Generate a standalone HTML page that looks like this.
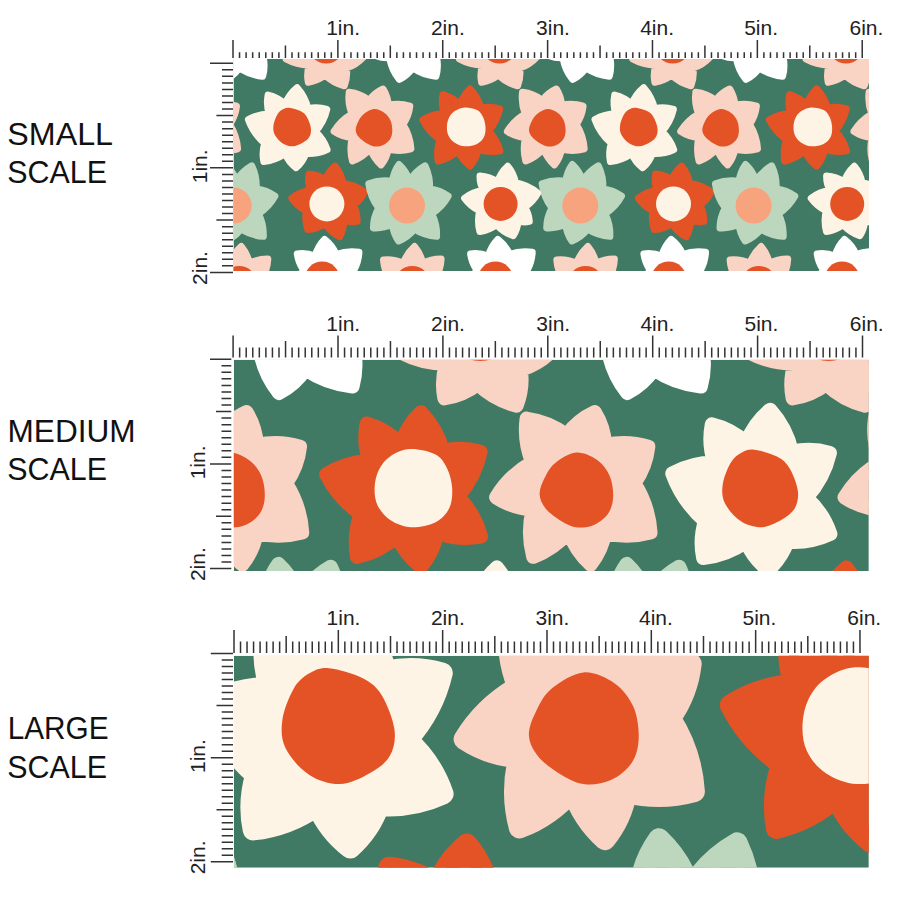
<!DOCTYPE html>
<html><head><meta charset="utf-8"><style>
html,body{margin:0;padding:0;background:#fff;width:900px;height:900px;overflow:hidden}
svg{display:block}
.rl{font-family:"Liberation Sans",sans-serif;font-size:21px;fill:#222}
.big{font-family:"Liberation Sans",sans-serif;font-size:31px;fill:#111}
</style></head><body>
<svg width="900" height="900" viewBox="0 0 900 900">
<rect width="900" height="900" fill="#fff"/>
<defs>
<clipPath id="c0"><rect x="233.5" y="59.0" width="635.5" height="212.0"/></clipPath>
<clipPath id="c1"><rect x="233.8" y="359.7" width="635.0" height="211.4"/></clipPath>
<clipPath id="c2"><rect x="233.9" y="655.8" width="634.9" height="211.9"/></clipPath>
</defs>
<g clip-path="url(#c0)">
<rect x="233.5" y="59.0" width="635.5" height="212.0" fill="#407a64"/>
<path fill="#fdf4e5" stroke="#fdf4e5" stroke-width="7.00" stroke-linejoin="round" d="M285.2 104.3Q289.0 94.5 297.1 87.8Q305.2 96.9 307.9 108.7Q317.5 106.6 326.8 109.3Q323.9 122.0 315.2 131.6Q323.5 139.0 327.1 149.6Q316.9 154.3 305.7 153.5Q302.8 161.8 296.1 167.6Q288.8 162.0 285.1 153.5Q275.5 160.3 263.8 161.6Q261.9 152.3 264.7 143.2Q253.5 133.5 248.4 119.5Q258.1 114.1 269.3 114.1Q266.2 104.7 268.1 95.1Q277.8 97.5 285.2 104.3Z"/>
<path fill="#e45326" d="M289.1 107.7C292.1 108.0 297.6 109.6 300.5 111.1C303.4 112.6 305.0 114.0 306.7 116.8C308.4 119.6 310.5 124.8 310.9 128.2C311.3 131.6 310.7 134.6 309.3 137.0C307.9 139.4 305.4 141.1 302.6 142.7C299.8 144.2 296.1 146.2 292.7 146.3C289.3 146.4 285.4 145.2 282.4 143.2C279.4 141.2 276.1 137.4 274.6 134.4C273.1 131.4 273.1 128.4 273.5 125.1C273.9 121.8 275.7 117.3 277.2 114.7C278.7 112.1 280.4 110.7 282.4 109.5C284.4 108.3 286.1 107.4 289.1 107.7Z"/>
<path fill="#fdf4e5" stroke="#fdf4e5" stroke-width="7.00" stroke-linejoin="round" d="M631.8 104.3Q635.6 94.5 643.7 87.8Q651.8 96.9 654.5 108.7Q664.1 106.6 673.4 109.3Q670.5 122.0 661.8 131.6Q670.1 139.0 673.7 149.6Q663.5 154.3 652.3 153.5Q649.4 161.8 642.7 167.6Q635.4 162.0 631.7 153.5Q622.1 160.3 610.4 161.6Q608.5 152.3 611.3 143.2Q600.1 133.5 595.0 119.5Q604.7 114.1 615.9 114.1Q612.8 104.7 614.7 95.1Q624.4 97.5 631.8 104.3Z"/>
<path fill="#e45326" d="M635.7 107.7C638.7 108.0 644.2 109.6 647.1 111.1C650.0 112.6 651.6 114.0 653.3 116.8C655.0 119.6 657.1 124.8 657.5 128.2C657.9 131.6 657.3 134.6 655.9 137.0C654.5 139.4 652.0 141.1 649.2 142.7C646.4 144.2 642.7 146.2 639.3 146.3C635.9 146.4 632.0 145.2 629.0 143.2C626.0 141.2 622.7 137.4 621.2 134.4C619.7 131.4 619.7 128.4 620.1 125.1C620.5 121.8 622.3 117.3 623.8 114.7C625.3 112.1 627.0 110.7 629.0 109.5C631.0 108.3 632.7 107.4 635.7 107.7Z"/>
<path fill="#f9d3c3" stroke="#f9d3c3" stroke-width="7.00" stroke-linejoin="round" d="M195.8 100.4Q201.3 92.9 209.8 89.0Q214.5 96.5 215.0 105.4Q225.9 103.0 236.5 106.2Q235.4 116.2 229.6 124.4Q236.7 135.6 237.6 148.8Q226.3 151.9 214.9 149.1Q213.4 157.9 207.8 164.9Q200.2 158.1 197.0 148.5Q189.7 157.0 179.2 161.0Q176.1 149.3 179.0 137.6Q169.1 136.9 160.8 131.4Q167.5 120.4 178.7 114.0Q174.5 103.5 175.9 92.3Q186.9 93.7 195.8 100.4Z"/>
<path fill="#e45326" d="M200.6 109.1C204.0 108.8 208.1 110.8 210.9 112.7C213.7 114.6 215.8 117.5 217.2 120.5C218.5 123.5 219.1 127.8 219.0 130.9C218.9 134.0 218.2 136.9 216.7 139.2C215.2 141.5 212.5 143.7 209.9 144.9C207.3 146.1 203.9 146.7 201.1 146.4C198.3 146.1 195.9 144.9 193.3 143.3C190.7 141.8 187.3 139.3 185.5 137.1C183.7 134.9 182.5 132.5 182.4 129.9C182.3 127.3 183.7 124.2 185.0 121.6C186.3 119.0 187.6 116.4 190.2 114.3C192.8 112.2 197.1 109.4 200.6 109.1Z"/>
<path fill="#f9d3c3" stroke="#f9d3c3" stroke-width="7.00" stroke-linejoin="round" d="M369.1 100.4Q374.6 92.9 383.1 89.0Q387.8 96.5 388.3 105.4Q399.2 103.0 409.8 106.2Q408.7 116.2 402.9 124.4Q410.0 135.6 410.9 148.8Q399.6 151.9 388.2 149.1Q386.7 157.9 381.1 164.9Q373.5 158.1 370.3 148.5Q363.0 157.0 352.5 161.0Q349.4 149.3 352.3 137.6Q342.4 136.9 334.1 131.4Q340.8 120.4 352.0 114.0Q347.8 103.5 349.2 92.3Q360.2 93.7 369.1 100.4Z"/>
<path fill="#e45326" d="M373.9 109.1C377.3 108.8 381.4 110.8 384.2 112.7C387.0 114.6 389.1 117.5 390.5 120.5C391.9 123.5 392.4 127.8 392.3 130.9C392.2 134.0 391.5 136.9 390.0 139.2C388.5 141.5 385.8 143.7 383.2 144.9C380.6 146.1 377.2 146.7 374.4 146.4C371.6 146.1 369.2 144.9 366.6 143.3C364.0 141.8 360.6 139.3 358.8 137.1C357.0 134.9 355.8 132.5 355.7 129.9C355.6 127.3 357.0 124.2 358.3 121.6C359.6 119.0 360.9 116.4 363.5 114.3C366.1 112.2 370.4 109.4 373.9 109.1Z"/>
<path fill="#f9d3c3" stroke="#f9d3c3" stroke-width="7.00" stroke-linejoin="round" d="M542.4 100.4Q547.9 92.9 556.4 89.0Q561.1 96.5 561.6 105.4Q572.5 103.0 583.1 106.2Q582.0 116.2 576.2 124.4Q583.3 135.6 584.2 148.8Q572.9 151.9 561.5 149.1Q560.0 157.9 554.4 164.9Q546.8 158.1 543.6 148.5Q536.3 157.0 525.8 161.0Q522.7 149.3 525.6 137.6Q515.7 136.9 507.4 131.4Q514.1 120.4 525.3 114.0Q521.1 103.5 522.5 92.3Q533.5 93.7 542.4 100.4Z"/>
<path fill="#e45326" d="M547.2 109.1C550.7 108.8 554.7 110.8 557.5 112.7C560.3 114.6 562.4 117.5 563.8 120.5C565.1 123.5 565.7 127.8 565.6 130.9C565.5 134.0 564.8 136.9 563.3 139.2C561.8 141.5 559.1 143.7 556.5 144.9C553.9 146.1 550.5 146.7 547.7 146.4C544.9 146.1 542.5 144.9 539.9 143.3C537.3 141.8 533.9 139.3 532.1 137.1C530.3 134.9 529.1 132.5 529.0 129.9C528.9 127.3 530.3 124.2 531.6 121.6C532.9 119.0 534.2 116.4 536.8 114.3C539.4 112.2 543.8 109.4 547.2 109.1Z"/>
<path fill="#f9d3c3" stroke="#f9d3c3" stroke-width="7.00" stroke-linejoin="round" d="M715.7 100.4Q721.2 92.9 729.7 89.0Q734.4 96.5 734.9 105.4Q745.8 103.0 756.4 106.2Q755.3 116.2 749.5 124.4Q756.6 135.6 757.5 148.8Q746.2 151.9 734.8 149.1Q733.3 157.9 727.7 164.9Q720.1 158.1 716.9 148.5Q709.6 157.0 699.1 161.0Q696.0 149.3 698.9 137.6Q689.0 136.9 680.7 131.4Q687.4 120.4 698.6 114.0Q694.4 103.5 695.8 92.3Q706.8 93.7 715.7 100.4Z"/>
<path fill="#e45326" d="M720.5 109.1C724.0 108.8 728.0 110.8 730.8 112.7C733.6 114.6 735.8 117.5 737.1 120.5C738.5 123.5 739.0 127.8 738.9 130.9C738.8 134.0 738.1 136.9 736.6 139.2C735.1 141.5 732.4 143.7 729.8 144.9C727.2 146.1 723.8 146.7 721.0 146.4C718.2 146.1 715.8 144.9 713.2 143.3C710.6 141.8 707.2 139.3 705.4 137.1C703.6 134.9 702.4 132.5 702.3 129.9C702.2 127.3 703.6 124.2 704.9 121.6C706.2 119.0 707.5 116.4 710.1 114.3C712.7 112.2 717.0 109.4 720.5 109.1Z"/>
<path fill="#f9d3c3" stroke="#f9d3c3" stroke-width="7.00" stroke-linejoin="round" d="M889.0 100.4Q894.5 92.9 903.0 89.0Q907.7 96.5 908.2 105.4Q919.1 103.0 929.7 106.2Q928.6 116.2 922.8 124.4Q929.9 135.6 930.8 148.8Q919.5 151.9 908.1 149.1Q906.6 157.9 901.0 164.9Q893.4 158.1 890.2 148.5Q882.9 157.0 872.4 161.0Q869.3 149.3 872.2 137.6Q862.3 136.9 854.0 131.4Q860.7 120.4 871.9 114.0Q867.7 103.5 869.1 92.3Q880.1 93.7 889.0 100.4Z"/>
<path fill="#e45326" d="M893.8 109.1C897.3 108.8 901.3 110.8 904.1 112.7C906.9 114.6 909.1 117.5 910.4 120.5C911.8 123.5 912.3 127.8 912.2 130.9C912.1 134.0 911.4 136.9 909.9 139.2C908.4 141.5 905.7 143.7 903.1 144.9C900.5 146.1 897.1 146.7 894.3 146.4C891.5 146.1 889.1 144.9 886.5 143.3C883.9 141.8 880.5 139.3 878.7 137.1C876.9 134.9 875.7 132.5 875.6 129.9C875.5 127.3 876.9 124.2 878.2 121.6C879.5 119.0 880.8 116.4 883.4 114.3C886.0 112.2 890.4 109.4 893.8 109.1Z"/>
<path fill="#e45326" stroke="#e45326" stroke-width="7.00" stroke-linejoin="round" d="M460.0 104.9Q463.0 95.7 470.0 89.0Q478.0 97.2 480.9 108.2Q490.4 106.1 499.7 108.8Q497.0 121.4 488.5 131.0Q496.8 139.5 499.9 150.9Q488.8 152.9 478.2 149.2Q476.3 158.6 470.0 166.0Q462.1 159.9 458.1 150.7Q449.5 158.5 438.2 161.1Q436.3 150.1 440.0 139.6Q428.9 132.0 422.8 120.0Q432.6 113.8 444.1 113.2Q441.1 104.1 443.0 94.7Q452.8 97.6 460.0 104.9Z"/>
<path fill="#fdf4e5" d="M464.5 107.4C468.2 107.2 473.9 108.4 477.0 110.0C480.1 111.6 481.6 114.2 483.0 117.0C484.4 119.8 485.3 123.7 485.5 127.0C485.7 130.3 485.4 134.2 484.0 137.0C482.6 139.8 480.2 142.4 477.0 144.0C473.8 145.6 468.7 146.5 465.0 146.3C461.3 146.1 457.5 144.5 454.7 142.7C451.9 140.9 449.7 138.1 448.4 135.4C447.1 132.7 446.8 129.5 446.9 126.6C447.0 123.7 447.7 120.4 449.0 117.8C450.3 115.2 452.1 112.8 454.7 111.1C457.3 109.4 460.8 107.6 464.5 107.4Z"/>
<path fill="#e45326" stroke="#e45326" stroke-width="7.00" stroke-linejoin="round" d="M806.6 104.9Q809.6 95.7 816.6 89.0Q824.6 97.2 827.5 108.2Q837.0 106.1 846.3 108.8Q843.6 121.4 835.1 131.0Q843.4 139.5 846.5 150.9Q835.4 152.9 824.8 149.2Q822.9 158.6 816.6 166.0Q808.7 159.9 804.7 150.7Q796.1 158.5 784.8 161.1Q782.9 150.1 786.6 139.6Q775.5 132.0 769.4 120.0Q779.2 113.8 790.7 113.2Q787.7 104.1 789.6 94.7Q799.4 97.6 806.6 104.9Z"/>
<path fill="#fdf4e5" d="M811.1 107.4C814.8 107.2 820.5 108.4 823.6 110.0C826.7 111.6 828.2 114.2 829.6 117.0C831.0 119.8 831.9 123.7 832.1 127.0C832.3 130.3 832.0 134.2 830.6 137.0C829.2 139.8 826.8 142.4 823.6 144.0C820.4 145.6 815.3 146.5 811.6 146.3C807.9 146.1 804.1 144.5 801.3 142.7C798.5 140.9 796.3 138.1 795.0 135.4C793.7 132.7 793.4 129.5 793.5 126.6C793.6 123.7 794.3 120.4 795.6 117.8C796.9 115.2 798.7 112.8 801.3 111.1C803.9 109.4 807.4 107.6 811.1 107.4Z"/>
<path fill="#e45326" stroke="#e45326" stroke-width="7.00" stroke-linejoin="round" d="M325.2 179.9Q328.3 171.8 335.1 166.3Q341.3 173.9 343.0 183.5Q354.9 185.0 364.4 192.1Q360.6 200.1 353.4 205.1Q357.4 212.8 357.1 221.3Q350.3 222.4 343.9 220.0Q343.9 228.9 339.6 236.7Q330.7 231.9 325.2 223.5Q317.3 228.8 307.8 229.5Q304.6 220.3 306.3 210.7Q297.4 206.4 291.8 198.2Q300.0 191.8 310.4 190.2Q307.6 182.3 309.0 174.1Q317.9 174.9 325.2 179.9Z"/>
<circle fill="#fdf4e5" cx="326.9" cy="203.9" r="17.5"/>
<path fill="#e45326" stroke="#e45326" stroke-width="7.00" stroke-linejoin="round" d="M671.8 179.9Q674.9 171.8 681.7 166.3Q687.9 173.9 689.6 183.5Q701.5 185.0 711.0 192.1Q707.2 200.1 700.0 205.1Q704.0 212.8 703.7 221.3Q696.9 222.4 690.5 220.0Q690.5 228.9 686.2 236.7Q677.3 231.9 671.8 223.5Q663.9 228.8 654.4 229.5Q651.2 220.3 652.9 210.7Q644.0 206.4 638.4 198.2Q646.6 191.8 657.0 190.2Q654.2 182.3 655.6 174.1Q664.5 174.9 671.8 179.9Z"/>
<circle fill="#fdf4e5" cx="673.5" cy="203.9" r="17.5"/>
<path fill="#bdd7bf" stroke="#bdd7bf" stroke-width="7.00" stroke-linejoin="round" d="M219.2 181.4Q220.3 172.1 225.7 164.5Q233.1 171.4 236.2 181.0Q242.1 171.5 251.8 165.9Q257.0 176.9 256.2 188.9Q266.5 190.1 274.9 196.1Q268.9 207.1 258.3 213.7Q263.8 224.3 263.3 236.3Q251.3 235.5 241.1 229.1Q234.7 237.1 225.3 241.0Q220.0 233.4 219.1 224.2Q210.1 228.5 200.1 227.9Q200.2 217.3 205.4 208.0Q197.3 197.2 195.5 183.7Q207.0 179.5 219.2 181.4Z"/>
<circle fill="#f6a37e" cx="233.7" cy="205.6" r="18.0"/>
<path fill="#bdd7bf" stroke="#bdd7bf" stroke-width="7.00" stroke-linejoin="round" d="M392.5 181.4Q393.6 172.1 399.0 164.5Q406.4 171.4 409.5 181.0Q415.4 171.5 425.1 165.9Q430.3 176.9 429.5 188.9Q439.8 190.1 448.2 196.1Q442.2 207.1 431.6 213.7Q437.1 224.3 436.6 236.3Q424.6 235.5 414.4 229.1Q408.0 237.1 398.6 241.0Q393.3 233.4 392.4 224.2Q383.4 228.5 373.4 227.9Q373.5 217.3 378.7 208.0Q370.6 197.2 368.8 183.7Q380.3 179.5 392.5 181.4Z"/>
<circle fill="#f6a37e" cx="407.0" cy="205.6" r="18.0"/>
<path fill="#bdd7bf" stroke="#bdd7bf" stroke-width="7.00" stroke-linejoin="round" d="M565.8 181.4Q566.9 172.1 572.3 164.5Q579.7 171.4 582.8 181.0Q588.7 171.5 598.4 165.9Q603.6 176.9 602.8 188.9Q613.1 190.1 621.5 196.1Q615.5 207.1 604.9 213.7Q610.4 224.3 609.9 236.3Q597.9 235.5 587.7 229.1Q581.3 237.1 571.9 241.0Q566.6 233.4 565.7 224.2Q556.7 228.5 546.7 227.9Q546.8 217.3 552.0 208.0Q543.9 197.2 542.1 183.7Q553.6 179.5 565.8 181.4Z"/>
<circle fill="#f6a37e" cx="580.3" cy="205.6" r="18.0"/>
<path fill="#bdd7bf" stroke="#bdd7bf" stroke-width="7.00" stroke-linejoin="round" d="M739.1 181.4Q740.2 172.1 745.6 164.5Q753.0 171.4 756.1 181.0Q762.0 171.5 771.7 165.9Q776.9 176.9 776.1 188.9Q786.4 190.1 794.8 196.1Q788.8 207.1 778.2 213.7Q783.7 224.3 783.2 236.3Q771.2 235.5 761.0 229.1Q754.6 237.1 745.2 241.0Q739.9 233.4 739.0 224.2Q730.0 228.5 720.0 227.9Q720.1 217.3 725.3 208.0Q717.2 197.2 715.4 183.7Q726.9 179.5 739.1 181.4Z"/>
<circle fill="#f6a37e" cx="753.6" cy="205.6" r="18.0"/>
<path fill="#fdf4e5" stroke="#fdf4e5" stroke-width="7.00" stroke-linejoin="round" d="M497.6 182.1Q500.6 172.8 507.7 166.3Q513.7 173.4 515.4 182.6Q527.9 184.9 537.7 193.1Q533.0 201.8 524.6 207.1Q528.8 213.6 529.3 221.4Q523.5 222.6 517.9 221.0Q517.5 228.9 513.2 235.6Q503.5 232.3 496.6 224.6Q489.2 230.3 479.9 231.6Q477.1 221.2 479.7 210.8Q470.5 206.5 464.6 198.3Q473.0 191.8 483.6 190.3Q479.9 183.6 480.0 176.0Q489.6 176.8 497.6 182.1Z"/>
<circle fill="#e45326" cx="500.6" cy="203.9" r="17.0"/>
<path fill="#fdf4e5" stroke="#fdf4e5" stroke-width="7.00" stroke-linejoin="round" d="M844.2 182.1Q847.2 172.8 854.3 166.3Q860.3 173.4 862.0 182.6Q874.5 184.9 884.3 193.1Q879.6 201.8 871.2 207.1Q875.4 213.6 875.9 221.4Q870.1 222.6 864.5 221.0Q864.1 228.9 859.8 235.6Q850.1 232.3 843.2 224.6Q835.8 230.3 826.5 231.6Q823.7 221.2 826.3 210.8Q817.1 206.5 811.2 198.3Q819.6 191.8 830.2 190.3Q826.5 183.6 826.6 176.0Q836.2 176.8 844.2 182.1Z"/>
<circle fill="#e45326" cx="847.2" cy="203.9" r="17.0"/>
<path fill="#ffffff" stroke="#ffffff" stroke-width="7.00" stroke-linejoin="round" d="M315.1 256.2Q317.7 246.6 324.6 239.5Q332.4 245.5 336.3 254.6Q347.3 250.5 358.9 252.3Q358.4 262.9 352.8 271.8Q361.6 277.7 366.4 287.1Q357.6 292.7 347.1 293.3Q347.8 303.7 343.3 313.2Q333.6 309.5 327.0 301.6Q319.3 308.5 309.2 310.8Q306.3 301.0 308.5 291.1Q298.5 289.8 290.3 283.8Q295.9 275.7 304.7 271.4Q298.7 263.6 297.3 253.9Q306.5 252.7 315.1 256.2Z"/>
<circle fill="#e45326" cx="322.2" cy="279.0" r="17.5"/>
<path fill="#ffffff" stroke="#ffffff" stroke-width="7.00" stroke-linejoin="round" d="M488.4 256.2Q491.0 246.6 497.9 239.5Q505.7 245.5 509.6 254.6Q520.6 250.5 532.2 252.3Q531.7 262.9 526.1 271.8Q534.9 277.7 539.7 287.1Q530.9 292.7 520.4 293.3Q521.1 303.7 516.6 313.2Q506.9 309.5 500.3 301.6Q492.6 308.5 482.5 310.8Q479.6 301.0 481.8 291.1Q471.8 289.8 463.6 283.8Q469.2 275.7 478.0 271.4Q472.0 263.6 470.6 253.9Q479.8 252.7 488.4 256.2Z"/>
<circle fill="#e45326" cx="495.5" cy="279.0" r="17.5"/>
<path fill="#ffffff" stroke="#ffffff" stroke-width="7.00" stroke-linejoin="round" d="M661.7 256.2Q664.3 246.6 671.2 239.5Q679.0 245.5 682.9 254.6Q693.9 250.5 705.5 252.3Q705.0 262.9 699.4 271.8Q708.2 277.7 713.0 287.1Q704.2 292.7 693.7 293.3Q694.4 303.7 689.9 313.2Q680.2 309.5 673.6 301.6Q665.9 308.5 655.8 310.8Q652.9 301.0 655.1 291.1Q645.1 289.8 636.9 283.8Q642.5 275.7 651.3 271.4Q645.3 263.6 643.9 253.9Q653.1 252.7 661.7 256.2Z"/>
<circle fill="#e45326" cx="668.8" cy="279.0" r="17.5"/>
<path fill="#ffffff" stroke="#ffffff" stroke-width="7.00" stroke-linejoin="round" d="M835.0 256.2Q837.6 246.6 844.5 239.5Q852.3 245.5 856.2 254.6Q867.2 250.5 878.8 252.3Q878.3 262.9 872.7 271.8Q881.5 277.7 886.3 287.1Q877.5 292.7 867.0 293.3Q867.7 303.7 863.2 313.2Q853.5 309.5 846.9 301.6Q839.2 308.5 829.1 310.8Q826.2 301.0 828.4 291.1Q818.4 289.8 810.2 283.8Q815.8 275.7 824.6 271.4Q818.6 263.6 817.2 253.9Q826.4 252.7 835.0 256.2Z"/>
<circle fill="#e45326" cx="842.1" cy="279.0" r="17.5"/>
<path fill="#f9d3c3" stroke="#f9d3c3" stroke-width="7.00" stroke-linejoin="round" d="M230.1 263.3Q233.5 253.5 241.2 246.5Q247.5 254.0 249.4 263.6Q258.0 258.9 267.8 259.0Q267.4 269.4 262.0 278.2Q271.4 282.8 277.4 291.4Q269.0 297.4 258.7 298.6Q260.9 308.9 257.8 318.8Q247.8 316.0 240.5 308.6Q233.7 316.6 224.0 320.3Q219.8 310.4 221.0 299.8Q210.4 298.7 201.6 292.6Q207.3 283.8 216.6 278.9Q210.9 270.2 210.2 259.9Q220.6 259.0 230.1 263.3Z"/>
<circle fill="#e45326" cx="239.0" cy="284.0" r="18.0"/>
<path fill="#f9d3c3" stroke="#f9d3c3" stroke-width="7.00" stroke-linejoin="round" d="M403.4 263.3Q406.8 253.5 414.5 246.5Q420.8 254.0 422.7 263.6Q431.3 258.9 441.1 259.0Q440.7 269.4 435.3 278.2Q444.7 282.8 450.7 291.4Q442.3 297.4 432.0 298.6Q434.2 308.9 431.1 318.8Q421.1 316.0 413.8 308.6Q407.0 316.6 397.3 320.3Q393.1 310.4 394.3 299.8Q383.7 298.7 374.9 292.6Q380.6 283.8 389.9 278.9Q384.2 270.2 383.5 259.9Q393.9 259.0 403.4 263.3Z"/>
<circle fill="#e45326" cx="412.3" cy="284.0" r="18.0"/>
<path fill="#f9d3c3" stroke="#f9d3c3" stroke-width="7.00" stroke-linejoin="round" d="M576.7 263.3Q580.1 253.5 587.8 246.5Q594.1 254.0 596.0 263.6Q604.6 258.9 614.4 259.0Q614.0 269.4 608.6 278.2Q618.0 282.8 624.0 291.4Q615.6 297.4 605.3 298.6Q607.5 308.9 604.4 318.8Q594.4 316.0 587.1 308.6Q580.3 316.6 570.6 320.3Q566.4 310.4 567.6 299.8Q557.0 298.7 548.2 292.6Q553.9 283.8 563.2 278.9Q557.5 270.2 556.8 259.9Q567.2 259.0 576.7 263.3Z"/>
<circle fill="#e45326" cx="585.6" cy="284.0" r="18.0"/>
<path fill="#f9d3c3" stroke="#f9d3c3" stroke-width="7.00" stroke-linejoin="round" d="M750.0 263.3Q753.4 253.5 761.1 246.5Q767.4 254.0 769.3 263.6Q777.9 258.9 787.7 259.0Q787.3 269.4 781.9 278.2Q791.3 282.8 797.3 291.4Q788.9 297.4 778.6 298.6Q780.8 308.9 777.7 318.8Q767.7 316.0 760.4 308.6Q753.6 316.6 743.9 320.3Q739.7 310.4 740.9 299.8Q730.3 298.7 721.5 292.6Q727.2 283.8 736.5 278.9Q730.8 270.2 730.1 259.9Q740.5 259.0 750.0 263.3Z"/>
<circle fill="#e45326" cx="758.9" cy="284.0" r="18.0"/>
<path fill="#ffffff" stroke="#ffffff" stroke-width="7.00" stroke-linejoin="round" d="M267.4 36.0Q274.6 40.3 278.7 47.5Q272.1 54.1 263.0 56.6Q265.4 66.5 262.6 76.3Q249.8 75.0 239.2 67.7Q234.1 75.3 226.0 79.4Q218.3 69.8 216.4 57.6Q208.4 58.3 201.0 54.9Q205.0 43.8 214.0 36.0Q207.9 26.0 207.4 14.2Q216.7 13.7 225.1 17.7Q230.6 7.1 240.7 0.5Q250.8 7.1 256.3 17.7Q264.7 13.7 274.0 14.2Q273.5 26.0 267.4 36.0Z"/>
<circle fill="#e45326" cx="240.7" cy="40.0" r="18.0"/>
<path fill="#ffffff" stroke="#ffffff" stroke-width="7.00" stroke-linejoin="round" d="M440.7 36.0Q447.9 40.3 452.0 47.5Q445.4 54.1 436.3 56.6Q438.7 66.5 435.9 76.3Q423.1 75.0 412.5 67.7Q407.4 75.3 399.3 79.4Q391.6 69.8 389.7 57.6Q381.7 58.3 374.3 54.9Q378.3 43.8 387.3 36.0Q381.2 26.0 380.7 14.2Q390.0 13.7 398.4 17.7Q403.9 7.1 414.0 0.5Q424.1 7.1 429.6 17.7Q438.0 13.7 447.3 14.2Q446.8 26.0 440.7 36.0Z"/>
<circle fill="#e45326" cx="414.0" cy="40.0" r="18.0"/>
<path fill="#ffffff" stroke="#ffffff" stroke-width="7.00" stroke-linejoin="round" d="M614.0 36.0Q621.2 40.3 625.3 47.5Q618.7 54.1 609.6 56.6Q612.0 66.5 609.2 76.3Q596.4 75.0 585.8 67.7Q580.7 75.3 572.6 79.4Q564.9 69.8 563.0 57.6Q555.0 58.3 547.6 54.9Q551.6 43.8 560.6 36.0Q554.5 26.0 554.0 14.2Q563.3 13.7 571.7 17.7Q577.2 7.1 587.3 0.5Q597.4 7.1 602.9 17.7Q611.3 13.7 620.6 14.2Q620.1 26.0 614.0 36.0Z"/>
<circle fill="#e45326" cx="587.3" cy="40.0" r="18.0"/>
<path fill="#ffffff" stroke="#ffffff" stroke-width="7.00" stroke-linejoin="round" d="M787.3 36.0Q794.5 40.3 798.6 47.5Q792.0 54.1 782.9 56.6Q785.3 66.5 782.5 76.3Q769.7 75.0 759.1 67.7Q754.0 75.3 745.9 79.4Q738.2 69.8 736.3 57.6Q728.3 58.3 720.9 54.9Q724.9 43.8 733.9 36.0Q727.8 26.0 727.3 14.2Q736.6 13.7 745.0 17.7Q750.5 7.1 760.6 0.5Q770.7 7.1 776.2 17.7Q784.6 13.7 793.9 14.2Q793.4 26.0 787.3 36.0Z"/>
<circle fill="#e45326" cx="760.6" cy="40.0" r="18.0"/>
<path fill="#f9d3c3" stroke="#f9d3c3" stroke-width="7.00" stroke-linejoin="round" d="M352.4 41.0Q360.0 47.6 363.3 57.1Q356.3 64.7 346.4 68.0Q347.6 77.2 344.3 85.8Q333.2 83.0 325.0 75.1Q317.6 80.8 308.3 82.2Q306.5 73.4 309.3 64.9Q296.9 65.0 286.1 59.0Q291.9 47.0 302.9 39.3Q297.6 30.6 297.3 20.4Q307.4 19.7 316.5 24.0Q321.9 14.3 331.3 8.5Q340.8 12.9 347.0 21.4Q355.5 19.5 363.8 22.0Q360.6 33.0 352.4 41.0Z"/>
<circle fill="#e45326" cx="326.2" cy="45.5" r="18.0"/>
<path fill="#f9d3c3" stroke="#f9d3c3" stroke-width="7.00" stroke-linejoin="round" d="M525.7 41.0Q533.3 47.6 536.6 57.1Q529.6 64.7 519.7 68.0Q520.9 77.2 517.6 85.8Q506.5 83.0 498.3 75.1Q490.9 80.8 481.6 82.2Q479.8 73.4 482.6 64.9Q470.2 65.0 459.4 59.0Q465.2 47.0 476.2 39.3Q470.9 30.6 470.6 20.4Q480.7 19.7 489.8 24.0Q495.2 14.3 504.6 8.5Q514.1 12.9 520.3 21.4Q528.8 19.5 537.1 22.0Q533.9 33.0 525.7 41.0Z"/>
<circle fill="#e45326" cx="499.5" cy="45.5" r="18.0"/>
<path fill="#f9d3c3" stroke="#f9d3c3" stroke-width="7.00" stroke-linejoin="round" d="M699.0 41.0Q706.6 47.6 709.9 57.1Q702.9 64.7 693.0 68.0Q694.2 77.2 690.9 85.8Q679.8 83.0 671.6 75.1Q664.2 80.8 654.9 82.2Q653.1 73.4 655.9 64.9Q643.5 65.0 632.7 59.0Q638.5 47.0 649.5 39.3Q644.2 30.6 643.9 20.4Q654.0 19.7 663.1 24.0Q668.5 14.3 677.9 8.5Q687.4 12.9 693.6 21.4Q702.1 19.5 710.4 22.0Q707.2 33.0 699.0 41.0Z"/>
<circle fill="#e45326" cx="672.8" cy="45.5" r="18.0"/>
<path fill="#f9d3c3" stroke="#f9d3c3" stroke-width="7.00" stroke-linejoin="round" d="M872.3 41.0Q879.9 47.6 883.2 57.1Q876.2 64.7 866.3 68.0Q867.5 77.2 864.2 85.8Q853.1 83.0 844.9 75.1Q837.5 80.8 828.2 82.2Q826.4 73.4 829.2 64.9Q816.8 65.0 806.0 59.0Q811.8 47.0 822.8 39.3Q817.5 30.6 817.2 20.4Q827.3 19.7 836.4 24.0Q841.8 14.3 851.2 8.5Q860.7 12.9 866.9 21.4Q875.4 19.5 883.7 22.0Q880.5 33.0 872.3 41.0Z"/>
<circle fill="#e45326" cx="846.1" cy="45.5" r="18.0"/>
</g>
<g clip-path="url(#c1)">
<rect x="233.8" y="359.7" width="635.0" height="211.4" fill="#407a64"/>
<path fill="#fdf4e5" stroke="#fdf4e5" stroke-width="14.07" stroke-linejoin="round" d="M746.3 442.8Q753.9 423.2 770.2 409.8Q786.5 427.9 791.9 451.7Q811.1 447.4 829.9 452.9Q824.0 478.3 806.5 497.6Q823.2 512.7 830.4 533.9Q810.0 543.4 787.5 541.7Q781.5 558.4 768.2 570.2Q753.5 558.8 746.1 541.7Q726.8 555.4 703.2 558.0Q699.3 539.3 705.0 521.1Q682.5 501.5 672.3 473.5Q691.8 462.5 714.2 462.5Q708.0 443.7 711.8 424.4Q731.4 429.1 746.3 442.8Z"/>
<path fill="#e45326" d="M754.1 449.7C760.1 450.2 771.1 453.5 777.0 456.5C782.9 459.6 785.9 462.2 789.4 468.0C792.9 473.7 797.0 484.1 797.9 490.9C798.7 497.6 797.4 503.7 794.7 508.6C791.9 513.4 786.8 516.9 781.2 520.0C775.6 523.1 768.1 527.1 761.3 527.3C754.5 527.4 746.7 525.0 740.6 521.0C734.5 517.0 727.9 509.4 724.9 503.3C721.9 497.3 721.8 491.3 722.7 484.7C723.6 478.1 727.2 469.0 730.1 463.7C733.1 458.5 736.6 455.6 740.6 453.3C744.6 450.9 748.0 449.1 754.1 449.7Z"/>
<path fill="#f9d3c3" stroke="#f9d3c3" stroke-width="14.07" stroke-linejoin="round" d="M218.2 435.0Q229.3 419.9 246.4 412.1Q255.9 427.3 256.8 445.1Q278.6 440.3 300.0 446.7Q297.8 466.8 286.0 483.3Q300.5 505.7 302.2 532.4Q279.5 538.6 256.6 532.9Q253.6 550.6 242.3 564.6Q227.1 551.0 220.5 531.7Q205.9 548.9 184.9 556.8Q178.5 533.3 184.4 509.8Q164.5 508.3 147.8 497.3Q161.3 475.1 183.9 462.3Q175.4 441.2 178.2 418.6Q200.4 421.6 218.2 435.0Z"/>
<path fill="#e45326" d="M227.8 452.5C234.8 452.0 243.0 455.9 248.5 459.7C254.1 463.5 258.5 469.3 261.2 475.4C263.9 481.5 265.0 490.0 264.8 496.3C264.7 502.6 263.2 508.3 260.2 513.0C257.2 517.7 251.8 522.0 246.5 524.4C241.3 526.9 234.4 528.0 228.8 527.5C223.3 526.9 218.4 524.3 213.2 521.2C207.9 518.1 201.1 513.3 197.5 508.8C193.8 504.3 191.4 499.5 191.3 494.3C191.1 489.1 193.9 482.8 196.5 477.6C199.1 472.4 201.7 467.1 206.9 462.9C212.2 458.8 220.9 453.0 227.8 452.5Z"/>
<path fill="#f9d3c3" stroke="#f9d3c3" stroke-width="14.07" stroke-linejoin="round" d="M566.6 435.0Q577.7 419.9 594.7 412.1Q604.2 427.3 605.1 445.1Q626.9 440.3 648.3 446.7Q646.1 466.8 634.4 483.3Q648.8 505.7 650.5 532.4Q627.8 538.6 605.0 532.9Q601.9 550.6 590.6 564.6Q575.5 551.0 568.8 531.7Q554.3 548.9 533.2 556.8Q526.9 533.3 532.7 509.8Q512.8 508.3 496.1 497.3Q509.6 475.1 532.2 462.3Q523.7 441.2 526.6 418.6Q548.7 421.6 566.6 435.0Z"/>
<path fill="#e45326" d="M576.2 452.5C583.1 452.0 591.3 455.9 596.9 459.7C602.4 463.5 606.8 469.3 609.5 475.4C612.3 481.5 613.3 490.0 613.2 496.3C613.0 502.6 611.6 508.3 608.5 513.0C605.5 517.7 600.1 522.0 594.9 524.4C589.6 526.9 582.7 528.0 577.2 527.5C571.6 526.9 566.7 524.3 561.5 521.2C556.3 518.1 549.5 513.3 545.8 508.8C542.2 504.3 539.8 499.5 539.6 494.3C539.4 489.1 542.2 482.8 544.8 477.6C547.4 472.4 550.0 467.1 555.3 462.9C560.5 458.8 569.2 453.0 576.2 452.5Z"/>
<path fill="#f9d3c3" stroke="#f9d3c3" stroke-width="14.07" stroke-linejoin="round" d="M914.9 435.0Q926.0 419.9 943.1 412.1Q952.5 427.3 953.4 445.1Q975.3 440.3 996.7 446.7Q994.4 466.8 982.7 483.3Q997.1 505.7 998.8 532.4Q976.1 538.6 953.3 532.9Q950.2 550.6 938.9 564.6Q923.8 551.0 917.2 531.7Q902.6 548.9 881.5 556.8Q875.2 533.3 881.1 509.8Q861.1 508.3 844.5 497.3Q858.0 475.1 880.5 462.3Q872.0 441.2 874.9 418.6Q897.0 421.6 914.9 435.0Z"/>
<path fill="#e45326" d="M924.5 452.5C931.4 452.0 939.6 455.9 945.2 459.7C950.8 463.5 955.2 469.3 957.9 475.4C960.6 481.5 961.7 490.0 961.5 496.3C961.3 502.6 959.9 508.3 956.9 513.0C953.8 517.7 948.4 522.0 943.2 524.4C938.0 526.9 931.1 528.0 925.5 527.5C919.9 526.9 915.1 524.3 909.8 521.2C904.6 518.1 897.8 513.3 894.2 508.8C890.5 504.3 888.1 499.5 887.9 494.3C887.8 489.1 890.5 482.8 893.1 477.6C895.8 472.4 898.4 467.1 903.6 462.9C908.8 458.8 917.6 453.0 924.5 452.5Z"/>
<path fill="#e45326" stroke="#e45326" stroke-width="14.07" stroke-linejoin="round" d="M401.0 444.1Q406.8 425.5 421.0 412.2Q437.0 428.6 443.0 450.7Q462.0 446.4 480.6 451.8Q475.2 477.1 458.1 496.6Q474.8 513.6 481.0 536.5Q458.8 540.4 437.4 533.0Q433.6 552.0 421.0 566.8Q405.1 554.6 397.2 536.2Q379.8 551.8 357.0 557.0Q353.2 535.0 360.6 513.9Q338.3 498.6 326.2 474.4Q345.8 462.0 369.0 460.7Q363.0 442.4 366.7 423.5Q386.5 429.3 401.0 444.1Z"/>
<path fill="#fdf4e5" d="M409.9 449.1C417.4 448.7 428.9 451.1 435.1 454.3C441.3 457.5 444.3 462.7 447.1 468.4C450.0 474.1 451.8 481.8 452.2 488.5C452.5 495.2 452.0 502.9 449.1 508.6C446.3 514.3 441.4 519.5 435.1 522.6C428.7 525.8 418.4 527.7 410.9 527.3C403.5 526.8 395.8 523.7 390.2 520.0C384.7 516.4 380.2 510.7 377.6 505.4C375.0 500.0 374.4 493.6 374.6 487.7C374.8 481.8 376.2 475.2 378.8 470.0C381.4 464.8 385.1 460.0 390.2 456.5C395.4 453.0 402.5 449.4 409.9 449.1Z"/>
<path fill="#e45326" stroke="#e45326" stroke-width="14.07" stroke-linejoin="round" d="M826.6 594.8Q832.9 578.5 846.4 567.4Q859.0 582.7 862.5 602.1Q886.2 605.1 905.5 619.3Q897.9 635.3 883.4 645.5Q891.3 660.9 890.7 678.1Q877.1 680.2 864.2 675.3Q864.2 693.2 855.5 708.9Q837.7 699.4 826.7 682.4Q810.7 693.0 791.6 694.4Q785.3 676.0 788.7 656.8Q770.8 648.0 759.4 631.6Q776.0 618.7 796.8 615.5Q791.2 599.6 794.1 583.1Q811.9 584.7 826.6 594.8Z"/>
<circle fill="#fdf4e5" cx="830.0" cy="643.0" r="35.2"/>
<path fill="#bdd7bf" stroke="#bdd7bf" stroke-width="14.07" stroke-linejoin="round" d="M265.3 597.8Q267.4 579.1 278.4 563.9Q293.2 577.8 299.4 597.1Q311.2 577.8 330.8 566.7Q341.2 588.7 339.7 612.9Q360.3 615.3 377.3 627.4Q365.2 649.4 343.9 662.8Q354.8 684.1 353.9 708.1Q329.7 706.7 309.3 693.7Q296.5 709.8 277.4 717.6Q266.8 702.3 265.1 683.8Q246.9 692.5 226.8 691.2Q226.9 669.9 237.5 651.3Q221.1 629.5 217.5 602.5Q240.8 593.9 265.3 597.8Z"/>
<circle fill="#f6a37e" cx="294.4" cy="646.5" r="36.2"/>
<path fill="#bdd7bf" stroke="#bdd7bf" stroke-width="14.07" stroke-linejoin="round" d="M613.6 597.8Q615.7 579.1 626.7 563.9Q641.5 577.8 647.7 597.1Q659.5 577.8 679.2 566.7Q689.6 588.7 688.0 612.9Q708.7 615.3 725.6 627.4Q713.5 649.4 692.2 662.8Q703.1 684.1 702.2 708.1Q678.1 706.7 657.7 693.7Q644.8 709.8 625.7 717.6Q615.2 702.3 613.4 683.8Q595.2 692.5 575.1 691.2Q575.3 669.9 585.8 651.3Q569.5 629.5 565.8 602.5Q589.1 593.9 613.6 597.8Z"/>
<circle fill="#f6a37e" cx="642.7" cy="646.5" r="36.2"/>
<path fill="#fdf4e5" stroke="#fdf4e5" stroke-width="14.07" stroke-linejoin="round" d="M476.4 599.2Q482.5 580.6 496.9 567.4Q508.8 581.8 512.3 600.1Q537.5 604.9 557.1 621.4Q547.6 638.9 530.7 649.4Q539.2 662.6 540.2 678.2Q528.6 680.7 517.2 677.3Q516.4 693.2 507.9 706.8Q488.4 700.1 474.5 684.7Q459.6 696.1 441.0 698.8Q435.3 677.9 440.6 656.9Q422.1 648.3 410.1 631.7Q427.1 618.8 448.3 615.8Q440.9 602.3 441.1 587.0Q460.3 588.5 476.4 599.2Z"/>
<circle fill="#e45326" cx="482.5" cy="643.0" r="34.2"/>
<path fill="#ffffff" stroke="#ffffff" stroke-width="14.07" stroke-linejoin="round" d="M362.2 305.5Q376.5 314.1 384.9 328.7Q371.5 341.9 353.3 347.0Q358.0 366.8 352.5 386.5Q326.7 384.0 305.3 369.3Q295.2 384.6 278.9 392.9Q263.5 373.5 259.6 349.0Q243.4 350.3 228.7 343.6Q236.8 321.2 254.7 305.5Q242.4 285.4 241.5 261.8Q260.1 260.7 277.0 268.7Q288.2 247.4 308.4 234.2Q328.6 247.4 339.9 268.7Q356.7 260.7 375.4 261.8Q374.5 285.4 362.2 305.5Z"/>
<circle fill="#e45326" cx="308.4" cy="313.6" r="36.2"/>
<path fill="#ffffff" stroke="#ffffff" stroke-width="14.07" stroke-linejoin="round" d="M710.5 305.5Q724.9 314.1 733.2 328.7Q719.8 341.9 701.7 347.0Q706.4 366.8 700.8 386.5Q675.0 384.0 653.7 369.3Q643.5 384.6 627.2 392.9Q611.8 373.5 607.9 349.0Q591.8 350.3 577.0 343.6Q585.1 321.2 603.0 305.5Q590.8 285.4 589.8 261.8Q608.5 260.7 625.3 268.7Q636.6 247.4 656.8 234.2Q677.0 247.4 688.2 268.7Q705.1 260.7 723.7 261.8Q722.8 285.4 710.5 305.5Z"/>
<circle fill="#e45326" cx="656.8" cy="313.6" r="36.2"/>
<path fill="#f9d3c3" stroke="#f9d3c3" stroke-width="14.07" stroke-linejoin="round" d="M533.0 315.6Q548.2 328.9 554.9 347.9Q540.8 363.3 520.9 369.9Q523.4 388.4 516.6 405.7Q494.4 400.0 477.8 384.2Q462.9 395.7 444.4 398.4Q440.8 380.8 446.2 363.6Q421.4 363.8 399.6 351.8Q411.4 327.6 433.4 312.3Q422.8 294.6 422.2 274.1Q442.4 272.8 460.8 281.4Q471.6 262.0 490.5 250.2Q509.7 259.2 522.1 276.3Q539.1 272.4 555.9 277.3Q549.4 299.4 533.0 315.6Z"/>
<circle fill="#e45326" cx="480.3" cy="324.7" r="36.2"/>
<path fill="#f9d3c3" stroke="#f9d3c3" stroke-width="14.07" stroke-linejoin="round" d="M881.4 315.6Q896.5 328.9 903.2 347.9Q889.1 363.3 869.2 369.9Q871.7 388.4 864.9 405.7Q842.7 400.0 826.2 384.2Q811.3 395.7 792.7 398.4Q789.1 380.8 794.6 363.6Q769.7 363.8 747.9 351.8Q759.7 327.6 781.7 312.3Q771.2 294.6 770.5 274.1Q790.8 272.8 809.1 281.4Q819.9 262.0 838.9 250.2Q858.0 259.2 870.4 276.3Q887.4 272.4 904.2 277.3Q897.8 299.4 881.4 315.6Z"/>
<circle fill="#e45326" cx="828.6" cy="324.7" r="36.2"/>
</g>
<g clip-path="url(#c2)">
<rect x="233.9" y="655.8" width="634.9" height="211.9" fill="#407a64"/>
<path fill="#fdf4e5" stroke="#fdf4e5" stroke-width="21.00" stroke-linejoin="round" d="M317.5 658.0Q328.9 628.7 353.2 608.6Q377.5 635.7 385.6 671.2Q414.2 664.8 442.3 673.0Q433.5 711.0 407.4 739.8Q432.3 762.2 443.1 793.9Q412.5 808.0 379.0 805.5Q370.1 830.5 350.2 848.0Q328.2 831.1 317.2 805.6Q288.4 826.1 253.2 829.9Q247.4 802.0 255.8 774.8Q222.2 745.6 207.1 703.7Q236.2 687.4 269.6 687.3Q260.4 659.3 266.0 630.4Q295.3 637.5 317.5 658.0Z"/>
<path fill="#e45326" d="M329.1 668.2C338.2 669.0 354.5 673.9 363.3 678.4C372.1 682.9 376.7 687.0 381.9 695.5C387.1 704.0 393.2 719.6 394.5 729.7C395.8 739.8 393.9 748.9 389.7 756.1C385.6 763.4 377.9 768.6 369.6 773.2C361.3 777.9 350.0 783.8 339.9 784.0C329.8 784.2 318.0 780.7 309.0 774.7C299.9 768.8 290.1 757.4 285.6 748.3C281.2 739.2 281.0 730.2 282.3 720.4C283.6 710.5 288.9 697.0 293.4 689.2C297.8 681.4 303.0 677.1 309.0 673.6C314.9 670.1 320.1 667.4 329.1 668.2Z"/>
<path fill="#f9d3c3" stroke="#f9d3c3" stroke-width="21.00" stroke-linejoin="round" d="M569.2 646.3Q585.7 623.8 611.2 612.1Q625.3 634.7 626.7 661.3Q659.3 654.1 691.2 663.7Q687.9 693.7 670.4 718.3Q691.9 751.8 694.4 791.6Q660.6 800.9 626.5 792.5Q621.9 818.9 605.0 839.7Q582.4 819.4 572.6 790.6Q550.8 816.2 519.4 828.0Q509.9 793.1 518.7 757.9Q488.9 755.7 464.1 739.2Q484.2 706.2 517.9 687.1Q505.2 655.6 509.5 621.9Q542.5 626.3 569.2 646.3Z"/>
<path fill="#e45326" d="M583.5 672.4C593.8 671.6 606.1 677.5 614.4 683.2C622.7 688.9 629.2 697.5 633.3 706.6C637.4 715.7 639.0 728.5 638.7 737.8C638.5 747.2 636.4 755.7 631.8 762.7C627.2 769.7 619.2 776.2 611.4 779.8C603.6 783.4 593.3 785.1 585.0 784.3C576.7 783.5 569.4 779.6 561.6 775.0C553.8 770.4 543.7 763.1 538.2 756.4C532.8 749.7 529.1 742.6 528.9 734.8C528.6 727.1 532.8 717.7 536.7 709.9C540.6 702.1 544.5 694.2 552.3 688.0C560.1 681.8 573.1 673.2 583.5 672.4Z"/>
<path fill="#e45326" stroke="#e45326" stroke-width="21.00" stroke-linejoin="round" d="M841.9 659.9Q850.7 632.2 871.8 612.2Q895.7 636.7 904.6 669.7Q932.9 663.3 960.8 671.4Q952.7 709.2 927.2 738.2Q952.1 763.5 961.4 797.8Q928.2 803.7 896.3 792.6Q890.6 821.0 871.8 843.0Q848.1 824.7 836.2 797.3Q810.3 820.6 776.4 828.4Q770.6 795.5 781.7 764.0Q748.4 741.2 730.3 705.1Q759.6 686.6 794.2 684.6Q785.2 657.3 790.7 629.1Q820.3 637.8 841.9 659.9Z"/>
<path fill="#fdf4e5" d="M855.3 667.3C866.4 666.8 883.5 670.3 892.8 675.1C902.0 679.9 906.5 687.6 910.8 696.1C915.0 704.6 917.8 716.1 918.3 726.1C918.8 736.1 918.0 747.6 913.8 756.1C909.5 764.6 902.3 772.5 892.8 777.1C883.3 781.8 867.9 784.6 856.8 784.0C845.6 783.4 834.2 778.7 825.9 773.2C817.6 767.8 810.9 759.4 807.0 751.3C803.1 743.2 802.2 733.7 802.5 724.9C802.8 716.1 804.9 706.2 808.8 698.5C812.7 690.8 818.1 683.6 825.9 678.4C833.6 673.2 844.1 667.9 855.3 667.3Z"/>
<path fill="#e45326" stroke="#e45326" stroke-width="21.00" stroke-linejoin="round" d="M437.3 884.8Q446.8 860.5 467.0 843.9Q485.7 866.7 490.9 895.7Q526.4 900.2 555.1 921.4Q543.7 945.3 522.1 960.5Q533.9 983.4 533.1 1009.1Q512.7 1012.2 493.4 1005.0Q493.5 1031.7 480.6 1055.1Q453.9 1040.9 437.5 1015.6Q413.7 1031.4 385.2 1033.5Q375.7 1006.0 380.8 977.3Q354.1 964.2 337.1 939.7Q361.9 920.5 392.9 915.7Q384.6 892.0 388.9 867.3Q415.4 869.7 437.3 884.8Z"/>
<circle fill="#fdf4e5" cx="442.5" cy="956.8" r="52.5"/>
<path fill="#bdd7bf" stroke="#bdd7bf" stroke-width="21.00" stroke-linejoin="round" d="M119.4 889.2Q122.6 861.4 139.0 838.7Q161.1 859.4 170.4 888.2Q188.0 859.5 217.3 842.9Q232.9 875.7 230.5 911.9Q261.4 915.3 286.6 933.4Q268.6 966.3 236.8 986.3Q253.1 1018.1 251.7 1053.9Q215.7 1051.7 185.2 1032.3Q166.0 1056.4 137.6 1068.0Q121.8 1045.2 119.2 1017.6Q92.1 1030.6 62.0 1028.7Q62.3 996.9 78.0 969.1Q53.6 936.6 48.2 896.2Q82.9 883.5 119.4 889.2Z"/>
<circle fill="#f6a37e" cx="162.9" cy="961.9" r="54.0"/>
<path fill="#bdd7bf" stroke="#bdd7bf" stroke-width="21.00" stroke-linejoin="round" d="M639.3 889.2Q642.5 861.4 658.9 838.7Q681.0 859.4 690.3 888.2Q707.9 859.5 737.2 842.9Q752.8 875.7 750.4 911.9Q781.3 915.3 806.5 933.4Q788.5 966.3 756.7 986.3Q773.0 1018.1 771.6 1053.9Q735.6 1051.7 705.1 1032.3Q685.9 1056.4 657.5 1068.0Q641.7 1045.2 639.1 1017.6Q612.0 1030.6 581.9 1028.7Q582.2 996.9 597.9 969.1Q573.5 936.6 568.1 896.2Q602.8 883.5 639.3 889.2Z"/>
<circle fill="#f6a37e" cx="682.8" cy="961.9" r="54.0"/>
<path fill="#fdf4e5" stroke="#fdf4e5" stroke-width="21.00" stroke-linejoin="round" d="M954.5 891.4Q963.6 863.6 985.0 843.9Q1002.9 865.3 1008.0 892.8Q1045.6 899.9 1075.0 924.5Q1060.7 950.6 1035.6 966.3Q1048.2 985.9 1049.6 1009.2Q1032.4 1013.0 1015.4 1008.0Q1014.2 1031.7 1001.5 1051.9Q972.3 1041.9 951.7 1019.0Q929.4 1036.0 901.6 1040.0Q893.2 1008.8 901.0 977.5Q873.4 964.6 855.5 939.9Q880.9 920.6 912.5 916.1Q901.6 896.0 901.8 873.2Q930.5 875.4 954.5 891.4Z"/>
<circle fill="#e45326" cx="963.6" cy="956.8" r="51.0"/>
</g>
<path stroke="#333" stroke-width="1.5" fill="none" d="M233.00 40.00V58.00M239.55 52.20V58.00M246.11 52.20V58.00M252.66 52.20V58.00M259.22 52.20V58.00M265.77 52.20V58.00M272.33 52.20V58.00M278.88 52.20V58.00M285.44 45.50V58.00M291.99 52.20V58.00M298.54 52.20V58.00M305.10 52.20V58.00M311.65 52.20V58.00M318.21 52.20V58.00M324.76 52.20V58.00M331.32 52.20V58.00M337.87 40.00V58.00M344.42 52.20V58.00M350.98 52.20V58.00M357.53 52.20V58.00M364.09 52.20V58.00M370.64 52.20V58.00M377.20 52.20V58.00M383.75 52.20V58.00M390.31 45.50V58.00M396.86 52.20V58.00M403.41 52.20V58.00M409.97 52.20V58.00M416.52 52.20V58.00M423.08 52.20V58.00M429.63 52.20V58.00M436.19 52.20V58.00M442.74 40.00V58.00M449.29 52.20V58.00M455.85 52.20V58.00M462.40 52.20V58.00M468.96 52.20V58.00M475.51 52.20V58.00M482.07 52.20V58.00M488.62 52.20V58.00M495.18 45.50V58.00M501.73 52.20V58.00M508.28 52.20V58.00M514.84 52.20V58.00M521.39 52.20V58.00M527.95 52.20V58.00M534.50 52.20V58.00M541.06 52.20V58.00M547.61 40.00V58.00M554.16 52.20V58.00M560.72 52.20V58.00M567.27 52.20V58.00M573.83 52.20V58.00M580.38 52.20V58.00M586.94 52.20V58.00M593.49 52.20V58.00M600.05 45.50V58.00M606.60 52.20V58.00M613.15 52.20V58.00M619.71 52.20V58.00M626.26 52.20V58.00M632.82 52.20V58.00M639.37 52.20V58.00M645.93 52.20V58.00M652.48 40.00V58.00M659.03 52.20V58.00M665.59 52.20V58.00M672.14 52.20V58.00M678.70 52.20V58.00M685.25 52.20V58.00M691.81 52.20V58.00M698.36 52.20V58.00M704.91 45.50V58.00M711.47 52.20V58.00M718.02 52.20V58.00M724.58 52.20V58.00M731.13 52.20V58.00M737.69 52.20V58.00M744.24 52.20V58.00M750.80 52.20V58.00M757.35 40.00V58.00M763.90 52.20V58.00M770.46 52.20V58.00M777.01 52.20V58.00M783.57 52.20V58.00M790.12 52.20V58.00M796.68 52.20V58.00M803.23 52.20V58.00M809.79 45.50V58.00M816.34 52.20V58.00M822.89 52.20V58.00M829.45 52.20V58.00M836.00 52.20V58.00M842.56 52.20V58.00M849.11 52.20V58.00M855.67 52.20V58.00M862.22 40.00V58.00M210.00 63.30H233.00M222.00 69.83H233.00M222.00 76.37H233.00M222.00 82.90H233.00M222.00 89.44H233.00M222.00 95.97H233.00M222.00 102.51H233.00M222.00 109.04H233.00M216.40 115.57H233.00M222.00 122.11H233.00M222.00 128.64H233.00M222.00 135.18H233.00M222.00 141.71H233.00M222.00 148.25H233.00M222.00 154.78H233.00M222.00 161.32H233.00M210.00 167.85H233.00M222.00 174.38H233.00M222.00 180.92H233.00M222.00 187.45H233.00M222.00 193.99H233.00M222.00 200.52H233.00M222.00 207.06H233.00M222.00 213.59H233.00M216.40 220.12H233.00M222.00 226.66H233.00M222.00 233.19H233.00M222.00 239.73H233.00M222.00 246.26H233.00M222.00 252.80H233.00M222.00 259.33H233.00M222.00 265.87H233.00M210.00 272.40H233.00"/>
<text x="326.2" y="35.0" class="rl">1in.</text>
<text x="430.9" y="35.0" class="rl">2in.</text>
<text x="536.1" y="35.0" class="rl">3in.</text>
<text x="640.2" y="35.0" class="rl">4in.</text>
<text x="744.2" y="35.0" class="rl">5in.</text>
<text x="849.5" y="35.0" class="rl">6in.</text>
<text class="rl" text-anchor="middle" transform="translate(206.5 166.3) rotate(-90)">1in.</text>
<text class="rl" text-anchor="middle" transform="translate(206.5 268.0) rotate(-90)">2in.</text>
<path stroke="#333" stroke-width="1.5" fill="none" d="M233.10 335.50V357.40M239.66 347.50V357.40M246.21 347.50V357.40M252.77 347.50V357.40M259.32 347.50V357.40M265.88 347.50V357.40M272.44 347.50V357.40M278.99 347.50V357.40M285.55 341.00V357.40M292.11 347.50V357.40M298.66 347.50V357.40M305.22 347.50V357.40M311.77 347.50V357.40M318.33 347.50V357.40M324.89 347.50V357.40M331.44 347.50V357.40M338.00 335.50V357.40M344.56 347.50V357.40M351.11 347.50V357.40M357.67 347.50V357.40M364.23 347.50V357.40M370.78 347.50V357.40M377.34 347.50V357.40M383.89 347.50V357.40M390.45 341.00V357.40M397.01 347.50V357.40M403.56 347.50V357.40M410.12 347.50V357.40M416.68 347.50V357.40M423.23 347.50V357.40M429.79 347.50V357.40M436.34 347.50V357.40M442.90 335.50V357.40M449.46 347.50V357.40M456.01 347.50V357.40M462.57 347.50V357.40M469.12 347.50V357.40M475.68 347.50V357.40M482.24 347.50V357.40M488.79 347.50V357.40M495.35 341.00V357.40M501.91 347.50V357.40M508.46 347.50V357.40M515.02 347.50V357.40M521.58 347.50V357.40M528.13 347.50V357.40M534.69 347.50V357.40M541.24 347.50V357.40M547.80 335.50V357.40M554.36 347.50V357.40M560.91 347.50V357.40M567.47 347.50V357.40M574.02 347.50V357.40M580.58 347.50V357.40M587.14 347.50V357.40M593.69 347.50V357.40M600.25 341.00V357.40M606.81 347.50V357.40M613.36 347.50V357.40M619.92 347.50V357.40M626.48 347.50V357.40M633.03 347.50V357.40M639.59 347.50V357.40M646.14 347.50V357.40M652.70 335.50V357.40M659.26 347.50V357.40M665.81 347.50V357.40M672.37 347.50V357.40M678.93 347.50V357.40M685.48 347.50V357.40M692.04 347.50V357.40M698.59 347.50V357.40M705.15 341.00V357.40M711.71 347.50V357.40M718.26 347.50V357.40M724.82 347.50V357.40M731.38 347.50V357.40M737.93 347.50V357.40M744.49 347.50V357.40M751.04 347.50V357.40M757.60 335.50V357.40M764.16 347.50V357.40M770.71 347.50V357.40M777.27 347.50V357.40M783.83 347.50V357.40M790.38 347.50V357.40M796.94 347.50V357.40M803.49 347.50V357.40M810.05 341.00V357.40M816.61 347.50V357.40M823.16 347.50V357.40M829.72 347.50V357.40M836.28 347.50V357.40M842.83 347.50V357.40M849.39 347.50V357.40M855.94 347.50V357.40M862.50 335.50V357.40M210.00 359.20H231.30M221.50 365.74H231.30M221.50 372.29H231.30M221.50 378.83H231.30M221.50 385.38H231.30M221.50 391.92H231.30M221.50 398.46H231.30M221.50 405.01H231.30M216.00 411.55H231.30M221.50 418.09H231.30M221.50 424.64H231.30M221.50 431.18H231.30M221.50 437.73H231.30M221.50 444.27H231.30M221.50 450.81H231.30M221.50 457.36H231.30M210.00 463.90H231.30M221.50 470.44H231.30M221.50 476.99H231.30M221.50 483.53H231.30M221.50 490.07H231.30M221.50 496.62H231.30M221.50 503.16H231.30M221.50 509.71H231.30M216.00 516.25H231.30M221.50 522.79H231.30M221.50 529.34H231.30M221.50 535.88H231.30M221.50 542.42H231.30M221.50 548.97H231.30M221.50 555.51H231.30M221.50 562.06H231.30M210.00 568.60H231.30"/>
<text x="326.3" y="330.7" class="rl">1in.</text>
<text x="431.1" y="330.7" class="rl">2in.</text>
<text x="536.3" y="330.7" class="rl">3in.</text>
<text x="640.4" y="330.7" class="rl">4in.</text>
<text x="744.5" y="330.7" class="rl">5in.</text>
<text x="849.8" y="330.7" class="rl">6in.</text>
<text class="rl" text-anchor="middle" transform="translate(204.8 462.4) rotate(-90)">1in.</text>
<text class="rl" text-anchor="middle" transform="translate(204.8 564.2) rotate(-90)">2in.</text>
<path stroke="#333" stroke-width="1.5" fill="none" d="M234.00 630.00V653.00M240.52 641.50V653.00M247.04 641.50V653.00M253.56 641.50V653.00M260.08 641.50V653.00M266.60 641.50V653.00M273.12 641.50V653.00M279.64 641.50V653.00M286.17 636.00V653.00M292.69 641.50V653.00M299.21 641.50V653.00M305.73 641.50V653.00M312.25 641.50V653.00M318.77 641.50V653.00M325.29 641.50V653.00M331.81 641.50V653.00M338.33 630.00V653.00M344.85 641.50V653.00M351.37 641.50V653.00M357.89 641.50V653.00M364.41 641.50V653.00M370.93 641.50V653.00M377.45 641.50V653.00M383.97 641.50V653.00M390.50 636.00V653.00M397.02 641.50V653.00M403.54 641.50V653.00M410.06 641.50V653.00M416.58 641.50V653.00M423.10 641.50V653.00M429.62 641.50V653.00M436.14 641.50V653.00M442.66 630.00V653.00M449.18 641.50V653.00M455.70 641.50V653.00M462.22 641.50V653.00M468.74 641.50V653.00M475.26 641.50V653.00M481.78 641.50V653.00M488.30 641.50V653.00M494.82 636.00V653.00M501.35 641.50V653.00M507.87 641.50V653.00M514.39 641.50V653.00M520.91 641.50V653.00M527.43 641.50V653.00M533.95 641.50V653.00M540.47 641.50V653.00M546.99 630.00V653.00M553.51 641.50V653.00M560.03 641.50V653.00M566.55 641.50V653.00M573.07 641.50V653.00M579.59 641.50V653.00M586.11 641.50V653.00M592.63 641.50V653.00M599.15 636.00V653.00M605.68 641.50V653.00M612.20 641.50V653.00M618.72 641.50V653.00M625.24 641.50V653.00M631.76 641.50V653.00M638.28 641.50V653.00M644.80 641.50V653.00M651.32 630.00V653.00M657.84 641.50V653.00M664.36 641.50V653.00M670.88 641.50V653.00M677.40 641.50V653.00M683.92 641.50V653.00M690.44 641.50V653.00M696.96 641.50V653.00M703.49 636.00V653.00M710.01 641.50V653.00M716.53 641.50V653.00M723.05 641.50V653.00M729.57 641.50V653.00M736.09 641.50V653.00M742.61 641.50V653.00M749.13 641.50V653.00M755.65 630.00V653.00M762.17 641.50V653.00M768.69 641.50V653.00M775.21 641.50V653.00M781.73 641.50V653.00M788.25 641.50V653.00M794.77 641.50V653.00M801.29 641.50V653.00M807.81 636.00V653.00M814.34 641.50V653.00M820.86 641.50V653.00M827.38 641.50V653.00M833.90 641.50V653.00M840.42 641.50V653.00M846.94 641.50V653.00M853.46 641.50V653.00M859.98 630.00V653.00M210.80 653.50H233.00M221.70 660.01H233.00M221.70 666.52H233.00M221.70 673.03H233.00M221.70 679.54H233.00M221.70 686.05H233.00M221.70 692.56H233.00M221.70 699.07H233.00M216.50 705.58H233.00M221.70 712.08H233.00M221.70 718.59H233.00M221.70 725.10H233.00M221.70 731.61H233.00M221.70 738.12H233.00M221.70 744.63H233.00M221.70 751.14H233.00M210.80 757.65H233.00M221.70 764.16H233.00M221.70 770.67H233.00M221.70 777.18H233.00M221.70 783.69H233.00M221.70 790.20H233.00M221.70 796.71H233.00M221.70 803.22H233.00M216.50 809.73H233.00M221.70 816.23H233.00M221.70 822.74H233.00M221.70 829.25H233.00M221.70 835.76H233.00M221.70 842.27H233.00M221.70 848.78H233.00M221.70 855.29H233.00M210.80 861.80H233.00"/>
<text x="326.6" y="625.2" class="rl">1in.</text>
<text x="430.9" y="625.2" class="rl">2in.</text>
<text x="535.5" y="625.2" class="rl">3in.</text>
<text x="639.0" y="625.2" class="rl">4in.</text>
<text x="742.5" y="625.2" class="rl">5in.</text>
<text x="847.3" y="625.2" class="rl">6in.</text>
<text class="rl" text-anchor="middle" transform="translate(204.8 756.1) rotate(-90)">1in.</text>
<text class="rl" text-anchor="middle" transform="translate(204.8 857.4) rotate(-90)">2in.</text>
<text class="big" x="7.3" y="144.7" textLength="105.7" lengthAdjust="spacingAndGlyphs">SMALL</text>
<text class="big" x="7.3" y="183.2" textLength="99.7" lengthAdjust="spacingAndGlyphs">SCALE</text>
<text class="big" x="7.5" y="441.7" textLength="128.1" lengthAdjust="spacingAndGlyphs">MEDIUM</text>
<text class="big" x="7.3" y="480.2" textLength="99.7" lengthAdjust="spacingAndGlyphs">SCALE</text>
<text class="big" x="7.7" y="739.2" textLength="100.9" lengthAdjust="spacingAndGlyphs">LARGE</text>
<text class="big" x="7.3" y="777.7" textLength="99.7" lengthAdjust="spacingAndGlyphs">SCALE</text>
</svg></body></html>
